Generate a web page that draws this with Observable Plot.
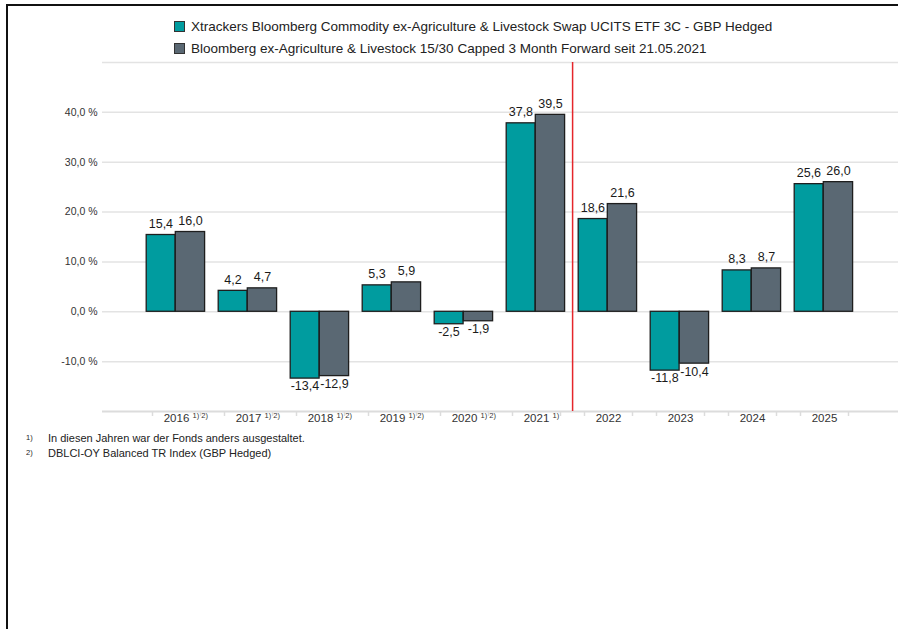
<!DOCTYPE html>
<html>
<head>
<meta charset="utf-8">
<script src="https://cdn.jsdelivr.net/npm/d3@7"></script>
<script src="https://cdn.jsdelivr.net/npm/@observablehq/plot@0.6"></script>
<style>
  html, body { margin: 0; padding: 0; background: #fff; overflow: hidden; }
  body { width: 898px; height: 629px; position: relative; font-family: "Liberation Sans", Arial, sans-serif; color: #222; }
  #clip { position: absolute; left: 0; top: 0; width: 898px; height: 629px; overflow: hidden; }
  #frame { position: absolute; left: 6px; top: 4px; width: 1000px; height: 700px; border-top: 2px solid #111; border-left: 2px solid #111; }
  #chart { position: absolute; left: 0; top: 0; }
  #legend { position: absolute; left: 174px; top: 15px; font-size: 13.5px; color: #222; }
  #legend .item { display: flex; align-items: center; height: 22px; white-space: nowrap; }
  #legend .sw { width: 9px; height: 9px; border: 1px solid #333; margin-right: 6px; }
  #notes { position: absolute; left: 26px; top: 430px; font-size: 11px; color: #222; }
  #notes .n { height: 15px; line-height: 15px; white-space: nowrap; }
  #notes sup { font-size: 7.5px; display: inline-block; width: 22px; vertical-align: 2px; }
</style>
</head>
<body>
<div id="clip">
<div id="frame"></div>
<div id="chart"></div>
<div id="legend"></div>
<div id="notes"></div>
</div>
<script>
// ---- data ----
const years = ["2016","2017","2018","2019","2020","2021","2022","2023","2024","2025"];
const yearNotes = ["1) 2)","1) 2)","1) 2)","1) 2)","1) 2)","1)","","","",""];
const fundValues = [15.4, 4.2, -13.4, 5.3, -2.5, 37.8, 18.6, -11.8, 8.3, 25.6];
const indexValues = [16.0, 4.7, -12.9, 5.9, -1.9, 39.5, 21.6, -10.4, 8.7, 26.0];
const seriesNames = [
  "Xtrackers Bloomberg Commodity ex-Agriculture & Livestock Swap UCITS ETF 3C - GBP Hedged",
  "Bloomberg ex-Agriculture & Livestock 15/30 Capped 3 Month Forward seit 21.05.2021"
];
const seriesColors = ["#009c9f", "#5a6873"];
const yTicks = [-10, 0, 10, 20, 30, 40];
const gridValues = [50, 40, 30, 20, 10, 0, -10];
const markerYear = "2021";
const footnotes = [
  ["1)", "In diesen Jahren war der Fonds anders ausgestaltet."],
  ["2)", "DBLCI-OY Balanced TR Index (GBP Hedged)"]
];

const rows = years.map((y, i) => ({year: y, note: yearNotes[i], fund: fundValues[i], index: indexValues[i]}));
const fmtVal = v => v.toFixed(1).replace(".", ",");
const fmtPct = v => v.toFixed(1).replace(".", ",") + " %";

const step = (861 - 139) / years.length;

function valueLabels(key, dx) {
  return [
    Plot.text(rows.filter(d => d[key] >= 0), {x: "year", y: key, text: d => fmtVal(d[key]), dx,
      lineAnchor: "bottom", dy: -7, fontSize: 12.5, fill: "#1a1a1a"}),
    Plot.text(rows.filter(d => d[key] < 0), {x: "year", y: key, text: d => fmtVal(d[key]), dx,
      lineAnchor: "top", dy: 3, fontSize: 12.5, fill: "#1a1a1a"})
  ];
}

const plot = Plot.plot({
  width: 898,
  height: 420,
  marginTop: 62,
  marginBottom: 9,
  marginLeft: 102,
  marginRight: 0,
  style: {fontFamily: "'Liberation Sans', Arial, sans-serif", background: "transparent", overflow: "visible"},
  x: {type: "band", domain: years, range: [139, 861], padding: 0, axis: null},
  y: {domain: [-20, 50], axis: null},
  marks: [
    Plot.ruleY(gridValues, {stroke: "#e3e3e3", strokeWidth: 1.5}),
    Plot.ruleY([-20], {stroke: "#dcdcdc", strokeWidth: 2}),
    Plot.ruleX(years, {x: d => d, y1: -20, y2: -20, insetBottom: -5, dx: -24, stroke: "#dcdcdc", strokeWidth: 1.5}),
    Plot.ruleX(years, {x: d => d, y1: -20, y2: -20, insetBottom: -5, dx: 24, stroke: "#dcdcdc", strokeWidth: 1.5}),
    Plot.axisY({ticks: yTicks, tickFormat: fmtPct, tickSize: 0, tickPadding: 5, fontSize: 10.5, fill: "#333", label: null}),
    Plot.barY(rows, {x: "year", y: "fund", fill: seriesColors[0], stroke: "#1e1e1e", strokeWidth: 1.3, insetLeft: 6.2, insetRight: 36.9}),
    Plot.barY(rows, {x: "year", y: "index", fill: seriesColors[1], stroke: "#1e1e1e", strokeWidth: 1.3, insetLeft: 35.3, insetRight: 7.4}),
    Plot.ruleX([markerYear], {x: d => d, dx: step / 2, y1: -20, y2: 50, stroke: "#e5262b", strokeWidth: 1.5}),
    ...valueLabels("fund", -15.6),
    ...valueLabels("index", 14),
    Plot.text(rows, {x: "year", y: -20, text: "year", dy: 7, fontSize: 11.5, fill: "#333"}),
    Plot.text(rows, {x: "year", y: -20, text: "note", dx: 16, dy: 4, textAnchor: "start", fontSize: 7.5, fill: "#333"})
  ]
});
document.getElementById("chart").appendChild(plot);

// legend
const legend = document.getElementById("legend");
seriesNames.forEach((name, i) => {
  const item = document.createElement("div");
  item.className = "item";
  const sw = document.createElement("span");
  sw.className = "sw";
  sw.style.background = seriesColors[i];
  const t = document.createElement("span");
  t.textContent = name;
  item.appendChild(sw);
  item.appendChild(t);
  legend.appendChild(item);
});

// footnotes
const notes = document.getElementById("notes");
footnotes.forEach(([k, txt]) => {
  const d = document.createElement("div");
  d.className = "n";
  const s = document.createElement("sup");
  s.textContent = k;
  d.appendChild(s);
  d.appendChild(document.createTextNode(txt));
  notes.appendChild(d);
});
</script>
</body>
</html>
